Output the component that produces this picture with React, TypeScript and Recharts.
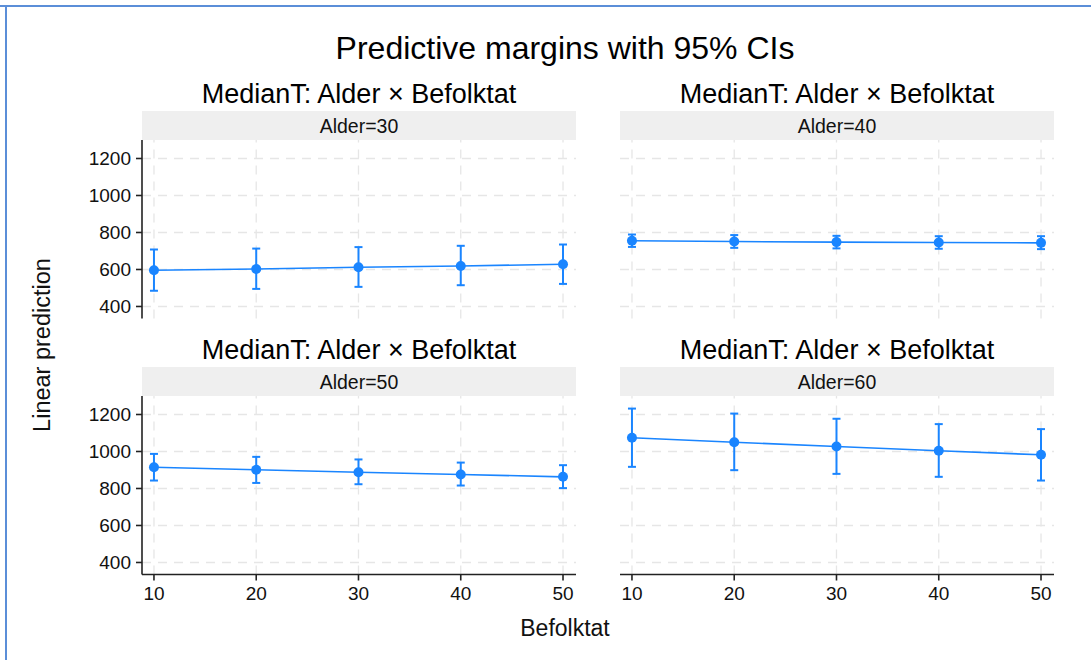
import React from 'react';
import { ComposedChart, Line, ErrorBar, XAxis, YAxis, ReferenceLine } from 'recharts';

// ---- data ----
const befolktat = [10, 20, 30, 40, 50];
const xTicks = [10, 20, 30, 40, 50];
const yTicks = [400, 600, 800, 1000, 1200];

const alder30Margin = [596, 603, 612, 619, 628];
const alder30Low = [485, 495, 506, 515, 522];
const alder30High = [708, 713, 721, 728, 735];

const alder40Margin = [755, 751, 748, 746, 744];
const alder40Low = [722, 717, 714, 712, 710];
const alder40High = [789, 786, 782, 780, 780];

const alder50Margin = [915, 901, 888, 876, 863];
const alder50Low = [843, 830, 823, 816, 802];
const alder50High = [987, 971, 957, 940, 926];

const alder60Margin = [1074, 1050, 1027, 1004, 982];
const alder60Low = [917, 899, 879, 863, 843];
const alder60High = [1232, 1205, 1177, 1148, 1121];

const panelLabels = ['Alder=30', 'Alder=40', 'Alder=50', 'Alder=60'];
const mainTitle = 'Predictive margins with 95% CIs';
const panelTitle = 'MedianT: Alder × Befolktat';
const yTitle = 'Linear prediction';
const xTitle = 'Befolktat';

// ---- style ----
const FONT = '"Liberation Sans", Arial, Helvetica, sans-serif';
const BLUE = '#1a85ff';
const GRID = '#e6e6e6';
const PLOT_W = 434;
const PLOT_H = 178.5;
const Y_AXIS_W = 80;
const X_AXIS_H = 40;
const X_DOMAIN: [number, number] = [8.83, 51.27];
const Y_DOMAIN: [number, number] = [335, 1300];

function buildData(m: number[], lo: number[], hi: number[]) {
  return befolktat.map((x, i) => ({ x, y: m[i], err: [m[i] - lo[i], hi[i] - m[i]] }));
}

const panels = [
  { plotLeft: 142, plotTop: 140, showY: true, showX: false, data: buildData(alder30Margin, alder30Low, alder30High) },
  { plotLeft: 620, plotTop: 140, showY: false, showX: false, data: buildData(alder40Margin, alder40Low, alder40High) },
  { plotLeft: 142, plotTop: 396, showY: true, showX: true, data: buildData(alder50Margin, alder50Low, alder50High) },
  { plotLeft: 620, plotTop: 396, showY: false, showX: true, data: buildData(alder60Margin, alder60Low, alder60High) },
];

function Panel({ plotLeft, plotTop, showY, showX, data }: any) {
  const yw = showY ? Y_AXIS_W : 0;
  const xh = showX ? X_AXIS_H : 0;
  const mt = 5, mr = 10, mb = 5;
  return (
    <div style={{ position: 'absolute', left: plotLeft - yw, top: plotTop - mt }}>
      <ComposedChart
        width={yw + PLOT_W + mr}
        height={mt + PLOT_H + xh + mb}
        data={data}
        margin={{ top: mt, right: mr, bottom: mb, left: 0 }}
      >
        <XAxis
          dataKey="x"
          type="number"
          domain={X_DOMAIN}
          ticks={xTicks}
          allowDataOverflow
          height={xh}
          axisLine={showX ? { stroke: '#222', strokeWidth: 1.6 } : false}
          tickLine={showX ? { stroke: '#222', strokeWidth: 1.6 } : false}
          tick={showX ? { fill: '#111', fontSize: 19, fontFamily: FONT } : false}
          tickSize={6}
          tickMargin={6}
        />
        <YAxis
          type="number"
          domain={Y_DOMAIN}
          ticks={yTicks}
          allowDataOverflow
          width={yw}
          axisLine={showY ? { stroke: '#222', strokeWidth: 1.6 } : false}
          tickLine={showY ? { stroke: '#222', strokeWidth: 1.6 } : false}
          tick={showY ? { fill: '#111', fontSize: 19, fontFamily: FONT } : false}
          tickSize={6}
          tickMargin={5}
        />
        {yTicks.map((t) => (
          <ReferenceLine key={'h' + t} y={t} stroke={GRID} strokeWidth={1.3} strokeDasharray="9 7" />
        ))}
        {xTicks.map((t) => (
          <ReferenceLine key={'v' + t} x={t} stroke={GRID} strokeWidth={1.3} strokeDasharray="9 7" />
        ))}
        <Line
          dataKey="y"
          stroke={BLUE}
          strokeWidth={1.6}
          dot={{ r: 5, fill: BLUE, stroke: BLUE, strokeWidth: 0 }}
          isAnimationActive={false}
        >
          <ErrorBar dataKey="err" direction="y" width={4} stroke={BLUE} strokeWidth={2} />
        </Line>
      </ComposedChart>
    </div>
  );
}

export default function App() {
  const stripPos = [
    { x: 142, y: 111 },
    { x: 620, y: 111 },
    { x: 142, y: 367 },
    { x: 620, y: 367 },
  ];
  return (
    <div style={{ position: 'absolute', left: 0, top: 0, width: 1091, height: 660, background: '#fff', fontFamily: FONT }}>
      <svg width={1091} height={660} style={{ position: 'absolute', left: 0, top: 0 }}>
        <line x1={0} y1={6} x2={1091} y2={6} stroke="#5b8ed8" strokeWidth={2} />
        <line x1={6} y1={5} x2={6} y2={660} stroke="#5b8ed8" strokeWidth={2} />
        <text x={565} y={48} textAnchor="middle" dominantBaseline="central" fontSize={32} fill="#000" fontFamily={FONT}>
          {mainTitle}
        </text>
        {stripPos.map((s, i) => (
          <g key={i}>
            <text x={s.x + PLOT_W / 2} y={s.y - 17} textAnchor="middle" dominantBaseline="central" fontSize={27} fill="#000" fontFamily={FONT}>
              {panelTitle}
            </text>
            <rect x={s.x} y={s.y} width={PLOT_W} height={29} fill="#efefef" />
            <text x={s.x + PLOT_W / 2} y={s.y + 15} textAnchor="middle" dominantBaseline="central" fontSize={19.5} fill="#111" fontFamily={FONT}>
              {panelLabels[i]}
            </text>
          </g>
        ))}
        <text x={565} y={628} textAnchor="middle" dominantBaseline="central" fontSize={23} fill="#111" fontFamily={FONT}>
          {xTitle}
        </text>
        <text
          x={42}
          y={345}
          textAnchor="middle"
          dominantBaseline="central"
          fontSize={23.5}
          fill="#111"
          fontFamily={FONT}
          transform="rotate(-90 42 345)"
        >
          {yTitle}
        </text>
      </svg>
      {panels.map((p, i) => (
        <Panel key={i} {...p} />
      ))}
    </div>
  );
}
